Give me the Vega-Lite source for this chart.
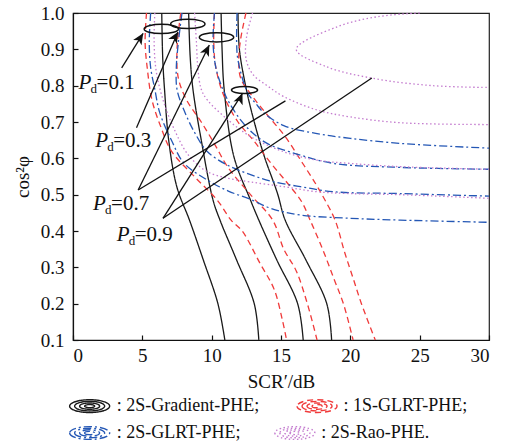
{
  "$schema": "https://vega.github.io/schema/vega-lite/v6.json",
  "width": 416,
  "height": 327,
  "autosize": {"type": "none"},
  "padding": {"left": 73, "top": 13, "right": 18, "bottom": 107},
  "background": "white",
  "config": {
    "view": {"stroke": "#222", "strokeWidth": 1.2},
    "font": "Liberation Serif",
    "axis": {
      "labelFont": "Liberation Serif",
      "labelFontSize": 19,
      "labelColor": "#111",
      "titleFont": "Liberation Serif",
      "titleFontSize": 19,
      "titleFontWeight": "normal",
      "titleColor": "#111",
      "domainColor": "#111",
      "domainWidth": 1.2,
      "tickColor": "#111",
      "tickSize": -5,
      "tickWidth": 1.2,
      "grid": false
    }
  },
  "datasets": {
    "curves": [
      {"d":"grad","p":0.1,"x":6.4,"y":1.0},{"d":"grad","p":0.1,"x":6.45,"y":0.9},{"d":"grad","p":0.1,"x":6.5,"y":0.85},{"d":"grad","p":0.1,"x":6.6,"y":0.79},{"d":"grad","p":0.1,"x":6.9,"y":0.65},{"d":"grad","p":0.1,"x":7.5,"y":0.52},{"d":"grad","p":0.1,"x":8.4,"y":0.43},{"d":"grad","p":0.1,"x":9.4,"y":0.32},{"d":"grad","p":0.1,"x":10.45,"y":0.2},{"d":"grad","p":0.1,"x":10.95,"y":0.1},
      {"d":"grad","p":0.3,"x":8.34,"y":1.0},{"d":"grad","p":0.3,"x":8.45,"y":0.88},{"d":"grad","p":0.3,"x":8.65,"y":0.79},{"d":"grad","p":0.3,"x":9.25,"y":0.65},{"d":"grad","p":0.3,"x":10.1,"y":0.485},{"d":"grad","p":0.3,"x":10.6,"y":0.43},{"d":"grad","p":0.3,"x":11.8,"y":0.32},{"d":"grad","p":0.3,"x":13.07,"y":0.2},{"d":"grad","p":0.3,"x":13.4,"y":0.1},
      {"d":"grad","p":0.7,"x":10.68,"y":1.0},{"d":"grad","p":0.7,"x":10.75,"y":0.9},{"d":"grad","p":0.7,"x":10.9,"y":0.79},{"d":"grad","p":0.7,"x":11.6,"y":0.605},{"d":"grad","p":0.7,"x":12.8,"y":0.485},{"d":"grad","p":0.7,"x":13.4,"y":0.43},{"d":"grad","p":0.7,"x":14.7,"y":0.32},{"d":"grad","p":0.7,"x":16.2,"y":0.2},{"d":"grad","p":0.7,"x":16.6,"y":0.1},
      {"d":"grad","p":0.9,"x":11.9,"y":1.0},{"d":"grad","p":0.9,"x":12.0,"y":0.9},{"d":"grad","p":0.9,"x":12.5,"y":0.79},{"d":"grad","p":0.9,"x":13.1,"y":0.696},{"d":"grad","p":0.9,"x":13.8,"y":0.605},{"d":"grad","p":0.9,"x":14.75,"y":0.503},{"d":"grad","p":0.9,"x":15.3,"y":0.43},{"d":"grad","p":0.9,"x":16.8,"y":0.32},{"d":"grad","p":0.9,"x":18.3,"y":0.2},{"d":"grad","p":0.9,"x":18.65,"y":0.1},
      {"d":"1s","p":0.1,"x":5.3,"y":1.0},{"d":"1s","p":0.1,"x":5.2,"y":0.92},{"d":"1s","p":0.1,"x":5.35,"y":0.85},{"d":"1s","p":0.1,"x":5.7,"y":0.76},{"d":"1s","p":0.1,"x":6.3,"y":0.69},{"d":"1s","p":0.1,"x":7.1,"y":0.62},{"d":"1s","p":0.1,"x":8.75,"y":0.55},{"d":"1s","p":0.1,"x":10.4,"y":0.485},{"d":"1s","p":0.1,"x":11.4,"y":0.43},{"d":"1s","p":0.1,"x":12.2,"y":0.4},{"d":"1s","p":0.1,"x":13.5,"y":0.31},{"d":"1s","p":0.1,"x":14.5,"y":0.24},{"d":"1s","p":0.1,"x":15.1,"y":0.155},{"d":"1s","p":0.1,"x":15.4,"y":0.1},
      {"d":"1s","p":0.3,"x":7.77,"y":1.0},{"d":"1s","p":0.3,"x":7.5,"y":0.9},{"d":"1s","p":0.3,"x":7.6,"y":0.82},{"d":"1s","p":0.3,"x":8.2,"y":0.76},{"d":"1s","p":0.3,"x":9.25,"y":0.7},{"d":"1s","p":0.3,"x":10.2,"y":0.64},{"d":"1s","p":0.3,"x":11.16,"y":0.576},{"d":"1s","p":0.3,"x":12.8,"y":0.5},{"d":"1s","p":0.3,"x":14.4,"y":0.43},{"d":"1s","p":0.3,"x":15.2,"y":0.35},{"d":"1s","p":0.3,"x":16.1,"y":0.29},{"d":"1s","p":0.3,"x":16.9,"y":0.2},{"d":"1s","p":0.3,"x":17.6,"y":0.1},
      {"d":"1s","p":0.7,"x":10.2,"y":1.0},{"d":"1s","p":0.7,"x":10.15,"y":0.92},{"d":"1s","p":0.7,"x":10.3,"y":0.85},{"d":"1s","p":0.7,"x":10.9,"y":0.77},{"d":"1s","p":0.7,"x":11.9,"y":0.7},{"d":"1s","p":0.7,"x":13.0,"y":0.65},{"d":"1s","p":0.7,"x":14.2,"y":0.59},{"d":"1s","p":0.7,"x":15.5,"y":0.53},{"d":"1s","p":0.7,"x":16.5,"y":0.48},{"d":"1s","p":0.7,"x":17.1,"y":0.43},{"d":"1s","p":0.7,"x":18.0,"y":0.35},{"d":"1s","p":0.7,"x":18.8,"y":0.27},{"d":"1s","p":0.7,"x":19.5,"y":0.2},{"d":"1s","p":0.7,"x":20.2,"y":0.1},
      {"d":"1s","p":0.9,"x":12.47,"y":1.0},{"d":"1s","p":0.9,"x":12.1,"y":0.93},{"d":"1s","p":0.9,"x":11.95,"y":0.87},{"d":"1s","p":0.9,"x":12.1,"y":0.82},{"d":"1s","p":0.9,"x":12.95,"y":0.77},{"d":"1s","p":0.9,"x":14.0,"y":0.72},{"d":"1s","p":0.9,"x":15.3,"y":0.66},{"d":"1s","p":0.9,"x":16.5,"y":0.59},{"d":"1s","p":0.9,"x":17.5,"y":0.53},{"d":"1s","p":0.9,"x":18.1,"y":0.49},{"d":"1s","p":0.9,"x":18.9,"y":0.43},{"d":"1s","p":0.9,"x":19.6,"y":0.34},{"d":"1s","p":0.9,"x":20.2,"y":0.27},{"d":"1s","p":0.9,"x":20.8,"y":0.2},{"d":"1s","p":0.9,"x":21.8,"y":0.1},
      {"d":"2s","p":0.1,"x":5.6,"y":1.0},{"d":"2s","p":0.1,"x":5.5,"y":0.92},{"d":"2s","p":0.1,"x":5.6,"y":0.85},{"d":"2s","p":0.1,"x":5.9,"y":0.79},{"d":"2s","p":0.1,"x":6.26,"y":0.725},{"d":"2s","p":0.1,"x":7.1,"y":0.65},{"d":"2s","p":0.1,"x":8.0,"y":0.587},{"d":"2s","p":0.1,"x":9.7,"y":0.54},{"d":"2s","p":0.1,"x":11.2,"y":0.51},{"d":"2s","p":0.1,"x":12.8,"y":0.487},{"d":"2s","p":0.1,"x":14.3,"y":0.462},{"d":"2s","p":0.1,"x":16.4,"y":0.444},{"d":"2s","p":0.1,"x":20.0,"y":0.435},{"d":"2s","p":0.1,"x":23.6,"y":0.43},{"d":"2s","p":0.1,"x":30.0,"y":0.424},
      {"d":"2s","p":0.3,"x":7.86,"y":1.0},{"d":"2s","p":0.3,"x":7.6,"y":0.92},{"d":"2s","p":0.3,"x":7.45,"y":0.85},{"d":"2s","p":0.3,"x":7.5,"y":0.79},{"d":"2s","p":0.3,"x":8.0,"y":0.733},{"d":"2s","p":0.3,"x":8.8,"y":0.669},{"d":"2s","p":0.3,"x":9.7,"y":0.618},{"d":"2s","p":0.3,"x":11.16,"y":0.581},{"d":"2s","p":0.3,"x":12.8,"y":0.555},{"d":"2s","p":0.3,"x":14.3,"y":0.537},{"d":"2s","p":0.3,"x":16.4,"y":0.522},{"d":"2s","p":0.3,"x":18.8,"y":0.508},{"d":"2s","p":0.3,"x":23.6,"y":0.503},{"d":"2s","p":0.3,"x":30.0,"y":0.496},
      {"d":"2s","p":0.7,"x":10.2,"y":1.0},{"d":"2s","p":0.7,"x":10.1,"y":0.92},{"d":"2s","p":0.7,"x":10.3,"y":0.85},{"d":"2s","p":0.7,"x":10.8,"y":0.79},{"d":"2s","p":0.7,"x":11.3,"y":0.751},{"d":"2s","p":0.7,"x":12.1,"y":0.705},{"d":"2s","p":0.7,"x":12.9,"y":0.672},{"d":"2s","p":0.7,"x":14.0,"y":0.641},{"d":"2s","p":0.7,"x":16.4,"y":0.609},{"d":"2s","p":0.7,"x":18.8,"y":0.586},{"d":"2s","p":0.7,"x":23.6,"y":0.575},{"d":"2s","p":0.7,"x":30.0,"y":0.57},
      {"d":"2s","p":0.9,"x":11.83,"y":1.0},{"d":"2s","p":0.9,"x":11.8,"y":0.92},{"d":"2s","p":0.9,"x":11.9,"y":0.87},{"d":"2s","p":0.9,"x":12.6,"y":0.78},{"d":"2s","p":0.9,"x":13.2,"y":0.75},{"d":"2s","p":0.9,"x":13.8,"y":0.724},{"d":"2s","p":0.9,"x":15.2,"y":0.69},{"d":"2s","p":0.9,"x":17.6,"y":0.668},{"d":"2s","p":0.9,"x":20.0,"y":0.655},{"d":"2s","p":0.9,"x":23.6,"y":0.641},{"d":"2s","p":0.9,"x":30.0,"y":0.628},
      {"d":"rao","p":0.1,"x":5.9,"y":1.0},{"d":"rao","p":0.1,"x":5.85,"y":0.92},{"d":"rao","p":0.1,"x":6.0,"y":0.84},{"d":"rao","p":0.1,"x":6.5,"y":0.76},{"d":"rao","p":0.1,"x":7.3,"y":0.68},{"d":"rao","p":0.1,"x":8.3,"y":0.61},{"d":"rao","p":0.1,"x":9.6,"y":0.565},{"d":"rao","p":0.1,"x":11.2,"y":0.545},{"d":"rao","p":0.1,"x":12.8,"y":0.535},{"d":"rao","p":0.1,"x":15.2,"y":0.522},{"d":"rao","p":0.1,"x":17.6,"y":0.508},{"d":"rao","p":0.1,"x":20.0,"y":0.503},{"d":"rao","p":0.1,"x":23.6,"y":0.5},{"d":"rao","p":0.1,"x":30.0,"y":0.49},
      {"d":"rao","p":0.3,"x":8.77,"y":1.0},{"d":"rao","p":0.3,"x":8.9,"y":0.92},{"d":"rao","p":0.3,"x":9.0,"y":0.85},{"d":"rao","p":0.3,"x":9.25,"y":0.79},{"d":"rao","p":0.3,"x":9.7,"y":0.76},{"d":"rao","p":0.3,"x":11.2,"y":0.705},{"d":"rao","p":0.3,"x":12.8,"y":0.66},{"d":"rao","p":0.3,"x":15.2,"y":0.618},{"d":"rao","p":0.3,"x":17.6,"y":0.595},{"d":"rao","p":0.3,"x":20.0,"y":0.586},{"d":"rao","p":0.3,"x":23.6,"y":0.577},{"d":"rao","p":0.3,"x":30.0,"y":0.57},
      {"d":"rao","p":0.7,"x":12.95,"y":1.0},{"d":"rao","p":0.7,"x":12.5,"y":0.93},{"d":"rao","p":0.7,"x":12.5,"y":0.87},{"d":"rao","p":0.7,"x":13.0,"y":0.83},{"d":"rao","p":0.7,"x":14.0,"y":0.8},{"d":"rao","p":0.7,"x":15.2,"y":0.77},{"d":"rao","p":0.7,"x":17.6,"y":0.733},{"d":"rao","p":0.7,"x":20.0,"y":0.714},{"d":"rao","p":0.7,"x":23.6,"y":0.698},{"d":"rao","p":0.7,"x":30.0,"y":0.693},
      {"d":"rao","p":0.9,"x":25.0,"y":1.0},{"d":"rao","p":0.9,"x":22.0,"y":0.99},{"d":"rao","p":0.9,"x":19.05,"y":0.962},{"d":"rao","p":0.9,"x":16.1,"y":0.9},{"d":"rao","p":0.9,"x":18.3,"y":0.852},{"d":"rao","p":0.9,"x":21.65,"y":0.82},{"d":"rao","p":0.9,"x":25.95,"y":0.8},{"d":"rao","p":0.9,"x":30.0,"y":0.795}
    ],
    "ellipses": [
      {"p":0.1,"x":6.37,"y":0.956},
      {"p":0.3,"x":8.28,"y":0.97},
      {"p":0.7,"x":10.35,"y":0.933},
      {"p":0.9,"x":12.37,"y":0.788}
    ],
    "arrows": [
      {"p":0.1,"head":true,"x":3.51,"y":0.849,"x2":5.06,"y2":0.944},
      {"p":0.3,"head":true,"x":4.58,"y":0.684,"x2":7.57,"y2":0.948},
      {"p":0.7,"head":true,"x":4.7,"y":0.513,"x2":9.83,"y2":0.912},
      {"p":0.7,"head":false,"x":4.7,"y":0.513,"x2":15.32,"y2":0.758},
      {"p":0.9,"head":true,"x":6.49,"y":0.435,"x2":12.22,"y2":0.779},
      {"p":0.9,"head":false,"x":6.49,"y":0.435,"x2":21.55,"y2":0.821}
    ],
    "labels": [
      {"t":"=0.1","x":0.4,"y":0.806},
      {"t":"=0.3","x":1.6,"y":0.649},
      {"t":"=0.7","x":1.45,"y":0.473},
      {"t":"=0.9","x":3.15,"y":0.388}
    ],
    "legicons": [
      {"d":"grad","ring":4,"x":1.2,"y":-0.082},{"d":"grad","ring":3,"x":1.2,"y":-0.082},{"d":"grad","ring":2,"x":1.2,"y":-0.082},{"d":"grad","ring":1,"x":1.2,"y":-0.082},
      {"d":"1s","ring":4,"x":17.6,"y":-0.082},{"d":"1s","ring":3,"x":17.6,"y":-0.082},{"d":"1s","ring":2,"x":17.6,"y":-0.082},{"d":"1s","ring":1,"x":17.6,"y":-0.082},
      {"d":"2s","ring":4,"x":1.2,"y":-0.156},{"d":"2s","ring":3,"x":1.2,"y":-0.156},{"d":"2s","ring":2,"x":1.2,"y":-0.156},{"d":"2s","ring":1,"x":1.2,"y":-0.156},
      {"d":"rao","ring":4,"x":16.0,"y":-0.156},{"d":"rao","ring":3,"x":16.0,"y":-0.156},{"d":"rao","ring":2,"x":16.0,"y":-0.156},{"d":"rao","ring":1,"x":16.0,"y":-0.156}
    ],
    "legtext": [
      {"t":": 2S-Gradient-PHE;","x":3.15,"y":-0.082},
      {"t":": 1S-GLRT-PHE;","x":19.5,"y":-0.082},
      {"t":": 2S-GLRT-PHE;","x":3.15,"y":-0.156},
      {"t":": 2S-Rao-PHE.","x":17.9,"y":-0.156}
    ]
  },
  "encoding": {
    "x": {
      "field": "x",
      "type": "quantitative",
      "scale": {"domain": [0, 30], "nice": false, "zero": false},
      "axis": {"values": [0, 5, 10, 15, 20, 25, 30], "title": "SCR′/dB", "labelPadding": 11, "titlePadding": 7}
    },
    "y": {
      "field": "y",
      "type": "quantitative",
      "scale": {"domain": [0.1, 1], "nice": false, "zero": false},
      "axis": {"values": [0.1, 0.2, 0.3, 0.4, 0.5, 0.6, 0.7, 0.8, 0.9, 1.0], "format": ".1f", "title": "cos²φ", "labelPadding": 14, "titlePadding": 8}
    }
  },
  "layer": [
    {
      "data": {"name": "curves"},
      "mark": {"type": "line", "interpolate": "catmull-rom", "strokeWidth": 1.3},
      "encoding": {
        "color": {"field": "d", "type": "nominal", "scale": {"domain": ["grad", "1s", "2s", "rao"], "range": ["#1a1a1a", "#f03a3a", "#2457b5", "#c47ccf"]}, "legend": null},
        "strokeDash": {"field": "d", "type": "nominal", "scale": {"domain": ["grad", "1s", "2s", "rao"], "range": [[1, 0], [6, 4], [8, 3, 2, 3], [1.5, 2.5]]}, "legend": null},
        "detail": {"field": "p", "type": "nominal"},
        "order": {"value": null}
      }
    },
    {
      "data": {"name": "ellipses"},
      "transform": [{"filter": "datum.p < 0.8"}],
      "mark": {"type": "point", "shape": "M-1,0A1,0.27,0,1,0,1,0A1,0.27,0,1,0,-1,0Z", "size": 1180, "filled": false, "color": "#111", "strokeWidth": 1.5, "opacity": 1}
    },
    {
      "data": {"name": "ellipses"},
      "transform": [{"filter": "datum.p > 0.8"}],
      "mark": {"type": "point", "shape": "M-1,0A1,0.27,0,1,0,1,0A1,0.27,0,1,0,-1,0Z", "size": 680, "filled": false, "color": "#111", "strokeWidth": 1.5, "opacity": 1}
    },
    {
      "data": {"name": "arrows"},
      "mark": {"type": "rule", "color": "#111", "strokeWidth": 1.3},
      "encoding": {"x2": {"field": "x2"}, "y2": {"field": "y2"}}
    },
    {
      "data": {"name": "arrows"},
      "transform": [{"filter": "datum.head"}],
      "mark": {"type": "point", "shape": "M0,0L-0.45,1L0,0.75L0.45,1Z", "size": 484, "filled": true, "color": "#111", "opacity": 1},
      "encoding": {
        "x": {"field": "x2", "type": "quantitative"},
        "y": {"field": "y2", "type": "quantitative"},
        "angle": {"field": "p", "type": "ordinal", "scale": {"domain": [0.1, 0.3, 0.7, 0.9], "range": [32, 23.4, 26.3, 32.6]}, "legend": null}
      }
    },
    {
      "data": {"name": "labels"},
      "mark": {"type": "text", "text": "P", "font": "Liberation Serif", "fontStyle": "italic", "fontSize": 21, "align": "left", "baseline": "middle", "color": "#111"}
    },
    {
      "data": {"name": "labels"},
      "mark": {"type": "text", "text": "d", "font": "Liberation Serif", "fontSize": 13, "align": "left", "baseline": "middle", "dx": 12, "dy": 6, "color": "#111"}
    },
    {
      "data": {"name": "labels"},
      "mark": {"type": "text", "font": "Liberation Serif", "fontSize": 21, "align": "left", "baseline": "middle", "dx": 18, "color": "#111"},
      "encoding": {"text": {"field": "t"}}
    },
    {
      "data": {"name": "legicons"},
      "mark": {"type": "point", "shape": "M-1,0A1,0.32,0,1,0,1,0A1,0.32,0,1,0,-1,0Z", "filled": false, "strokeWidth": 1.4, "opacity": 1},
      "encoding": {
        "color": {"field": "d", "type": "nominal", "legend": null},
        "strokeDash": {"field": "d", "type": "nominal", "legend": null},
        "size": {"field": "ring", "type": "quantitative", "scale": {"type": "pow", "exponent": 2, "domain": [0, 4], "range": [0, 1600]}, "legend": null}
      }
    },
    {
      "data": {"name": "legtext"},
      "mark": {"type": "text", "font": "Liberation Serif", "fontSize": 18, "align": "left", "baseline": "middle", "color": "#111"},
      "encoding": {"text": {"field": "t"}}
    }
  ]
}
